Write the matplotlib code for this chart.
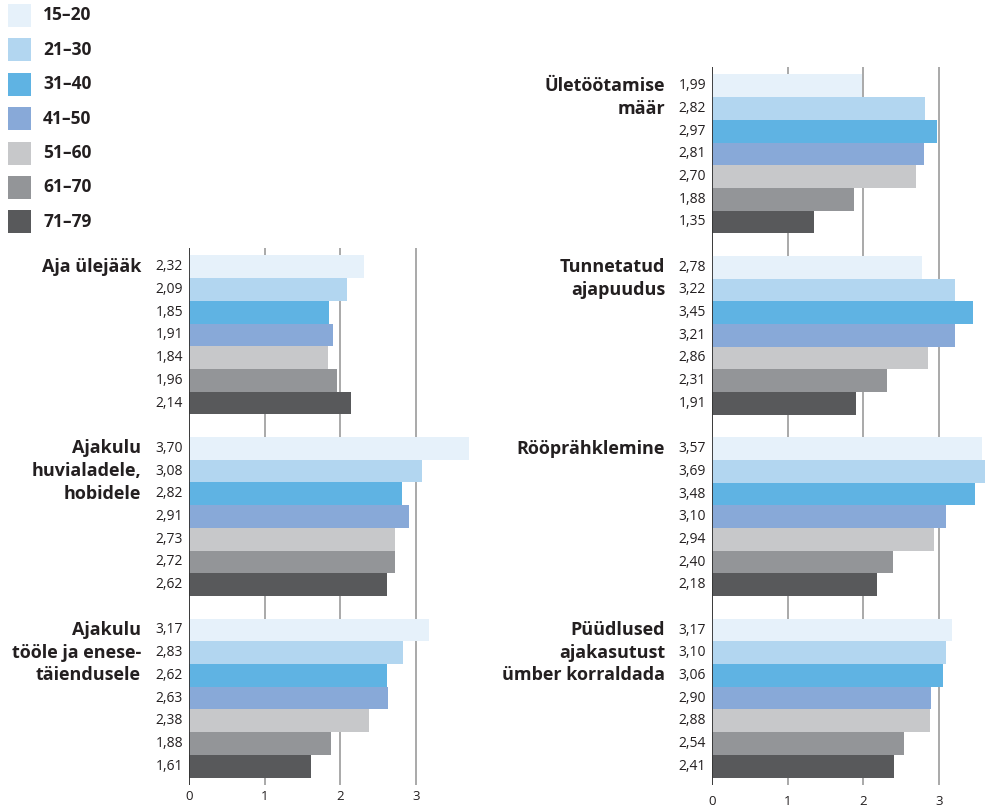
import matplotlib
matplotlib.use("Agg")
import matplotlib.pyplot as plt
from matplotlib.patches import Rectangle

plt.rcParams['font.family'] = ['Open Sans', 'DejaVu Sans']

age_groups = ["15–20", "21–30", "31–40", "41–50", "51–60", "61–70", "71–79"]
colors = ["#e6f1fa", "#b2d6f0", "#5fb3e3", "#88a9d8", "#c7c8ca", "#939598", "#58595b"]

left_categories = ["Aja ülejääk", "Ajakulu\nhuvialadele,\nhobidele", "Ajakulu\ntööle ja enese-\ntäiendusele"]
left_values = [
    [2.32, 2.09, 1.85, 1.91, 1.84, 1.96, 2.14],
    [3.70, 3.08, 2.82, 2.91, 2.73, 2.72, 2.62],
    [3.17, 2.83, 2.62, 2.63, 2.38, 1.88, 1.61],
]
right_categories = ["Ületöötamise\nmäär", "Tunnetatud\najapuudus", "Rööprähklemine",
                    "Püüdlused\najakasutust\nümber korraldada"]
right_values = [
    [1.99, 2.82, 2.97, 2.81, 2.70, 1.88, 1.35],
    [2.78, 3.22, 3.45, 3.21, 2.86, 2.31, 1.91],
    [3.57, 3.69, 3.48, 3.10, 2.94, 2.40, 2.18],
    [3.17, 3.10, 3.06, 2.90, 2.88, 2.54, 2.41],
]
xticks = [0, 1, 2, 3]

W, H = 985, 811
fig = plt.figure(figsize=(W / 100, H / 100), dpi=100)

TEXT = "#231f20"
PX_PER_UNIT = 75.6


def px_axes(x0, y0, x1, y1):
    return fig.add_axes([x0 / W, 1 - y1 / H, (x1 - x0) / W, (y1 - y0) / H])


def draw_column(ax, categories, values, xmax, label_x_px, tick_pad):
    n_groups = len(categories)
    pitch = len(age_groups) + 1
    for gi, (cat, vals) in enumerate(zip(categories, values)):
        ys = [gi * pitch + j for j in range(len(vals))]
        ax.barh(ys, vals, height=1.0, color=colors, linewidth=0, zorder=3)
        for y, v in zip(ys, vals):
            ax.annotate(f"{v:.2f}".replace(".", ","), xy=(0, y), xytext=(-6, 0),
                        textcoords="offset pixels", ha="right", va="center",
                        fontsize=10, color=TEXT, annotation_clip=False)
        for li, line in enumerate(cat.split("\n")):
            ax.annotate(line, xy=(0, gi * pitch + li), xytext=(label_x_px, 0),
                        textcoords="offset pixels", ha="right", va="center",
                        fontsize=13, fontweight="bold", color=TEXT,
                        annotation_clip=False)
    span = n_groups * pitch - 1
    ax.set_ylim(span - 0.5 + 0.33, -0.5 - 0.33)
    ax.set_xlim(0, xmax)
    ax.set_xticks(xticks)
    ax.set_xticklabels([str(t) for t in xticks])
    ax.tick_params(axis="x", length=0, pad=tick_pad, labelsize=9.5, labelcolor=TEXT)
    ax.set_yticks([])
    for s in ax.spines.values():
        s.set_visible(False)
    ax.grid(axis="x", color="#a3a3a3", linewidth=1.3, zorder=0)
    ax.set_axisbelow(True)
    ax.axvline(0, color="#333333", linewidth=1.3, zorder=4)


# left column
axL = px_axes(189, 248, 189 + 4 * PX_PER_UNIT, 785)
draw_column(axL, left_categories, left_values, 4, -(189 - 141), 3.5)

# right column
axR = px_axes(712, 67, W, 785)
draw_column(axR, right_categories, right_values, (W - 712) / PX_PER_UNIT, -(712 - 665), 7)

# legend
axLeg = fig.add_axes([0, 0, 1, 1], zorder=-1)
axLeg.set_xlim(0, W)
axLeg.set_ylim(H, 0)
axLeg.axis("off")
for i, (lab, c) in enumerate(zip(age_groups, colors)):
    top = 4 + i * 34.4
    axLeg.add_patch(Rectangle((8, top), 23, 23, color=c, linewidth=0))
    axLeg.text(43, top + 11.5, lab, ha="left", va="center", fontsize=12.5,
               fontweight="bold", color=TEXT)

fig.savefig("out.png", dpi=100)
